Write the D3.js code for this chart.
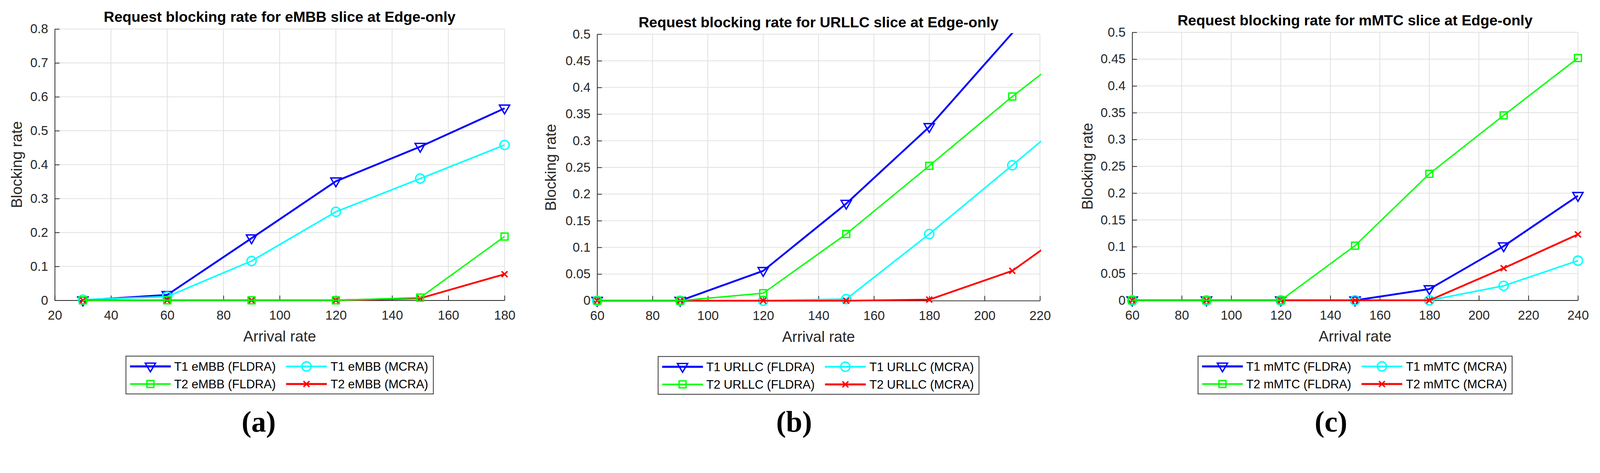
<!DOCTYPE html>
<html>
<head>
<meta charset="utf-8">
<title>Request blocking rate at Edge-only</title>
<script src="https://d3js.org/d3.v7.min.js"></script>
<style>
    html, body { margin: 0; padding: 0; overflow: hidden; background: #fff; }
    #fig { display: block; width: 100vw; height: auto; }
    text { font-family: "Liberation Sans", Arial, Helvetica, sans-serif; }
</style>
</head>
<body>
<svg id="fig" viewBox="0 0 4354 1212" preserveAspectRatio="xMinYMin meet"></svg>
<script>
// arrival rates per panel
const arrivalA = [30, 60, 90, 120, 150, 180];
const arrivalB = [60, 90, 120, 150, 180, 210, 240];
const arrivalC = [60, 90, 120, 150, 180, 210, 240];

// (a) eMBB
const embbT1Fldra = [0, 0.016, 0.183, 0.351, 0.453, 0.566];
const embbT1Mcra  = [0.002, 0.011, 0.116, 0.261, 0.359, 0.458];
const embbT2Fldra = [0, 0, 0, 0, 0.008, 0.188];
const embbT2Mcra  = [0, 0, 0, 0, 0.006, 0.077];

// (b) URLLC
const urllcT1Fldra = [0, 0, 0.056, 0.182, 0.326, 0.502, 0.68];
const urllcT1Mcra  = [0, 0, 0, 0.003, 0.125, 0.254, 0.384];
const urllcT2Fldra = [0, 0, 0.014, 0.125, 0.253, 0.383, 0.503];
const urllcT2Mcra  = [0, 0, 0, 0, 0.002, 0.056, 0.167];

// (c) mMTC
const mmtcT1Fldra = [0, 0, 0, 0, 0.021, 0.101, 0.195];
const mmtcT1Mcra  = [0, 0, 0, 0, 0, 0.027, 0.074];
const mmtcT2Fldra = [0, 0, 0, 0.102, 0.236, 0.345, 0.452];
const mmtcT2Mcra  = [0, 0, 0, 0, 0, 0.060, 0.123];

// ticks
const xTicksA = [20, 40, 60, 80, 100, 120, 140, 160, 180];
const xTicksB = [60, 80, 100, 120, 140, 160, 180, 200, 220];
const xTicksC = [60, 80, 100, 120, 140, 160, 180, 200, 220, 240];
const yTicksA = [0, 0.1, 0.2, 0.3, 0.4, 0.5, 0.6, 0.7, 0.8];
const yTicksB = [0, 0.05, 0.1, 0.15, 0.2, 0.25, 0.3, 0.35, 0.4, 0.45, 0.5];
const yTicksC = yTicksB;

const legendA = ["T1 eMBB (FLDRA)", "T1 eMBB (MCRA)", "T2 eMBB (FLDRA)", "T2 eMBB (MCRA)"];
const legendB = ["T1 URLLC (FLDRA)", "T1 URLLC (MCRA)", "T2 URLLC (FLDRA)", "T2 URLLC (MCRA)"];
const legendC = ["T1 mMTC (FLDRA)", "T1 mMTC (MCRA)", "T2 mMTC (FLDRA)", "T2 mMTC (MCRA)"];

// series styles, in legend order: T1 FLDRA, T1 MCRA, T2 FLDRA, T2 MCRA
const styles = [
    { color: "#0000ff", width: 5,   marker: "tri" },
    { color: "#00ffff", width: 4.2, marker: "circle" },
    { color: "#00ff00", width: 3.8, marker: "square" },
    { color: "#ff0000", width: 4.8, marker: "x" }
];
const drawOrder = [0, 1, 3, 2];

const panels = [
    { id: "a", title: "Request blocking rate for eMBB slice at Edge-only",
      xs: arrivalA, ys: [embbT1Fldra, embbT1Mcra, embbT2Fldra, embbT2Mcra], names: legendA,
      xDomain: [20, 180], yDomain: [0, 0.8], xTicks: xTicksA, yTicks: yTicksA,
      left: 149, right: 1373, top: 79, bottom: 818, ylabelX: 60, subX: 704 },
    { id: "b", title: "Request blocking rate for URLLC slice at Edge-only",
      xs: arrivalB, ys: [urllcT1Fldra, urllcT1Mcra, urllcT2Fldra, urllcT2Mcra], names: legendB,
      xDomain: [60, 220], yDomain: [0, 0.5], xTicks: xTicksB, yTicks: yTicksB,
      left: 1625, right: 2830, top: 93, bottom: 819, ylabelX: 1513, subX: 2161 },
    { id: "c", title: "Request blocking rate for mMTC slice at Edge-only",
      xs: arrivalC, ys: [mmtcT1Fldra, mmtcT1Mcra, mmtcT2Fldra, mmtcT2Mcra], names: legendC,
      xDomain: [60, 240], yDomain: [0, 0.5], xTicks: xTicksC, yTicks: yTicksC,
      left: 3081, right: 4294, top: 88, bottom: 818, ylabelX: 2973, subX: 3622 }
];

const svg = d3.select("#fig");
const axisColor = "#262626";
const gridColor = "#dfdfdf";

function drawMarker(g, type, color, cx, cy) {
    const m = g.append("g").attr("transform", `translate(${cx},${cy})`)
        .attr("fill", "none").attr("stroke", color);
    if (type === "tri") {
        m.append("path").attr("d", "M-14,-9L14,-9L0,15Z").attr("stroke-width", 3.6);
    } else if (type === "circle") {
        m.append("circle").attr("r", 12.5).attr("stroke-width", 3.8);
    } else if (type === "square") {
        m.append("rect").attr("x", -9.5).attr("y", -9.5).attr("width", 19).attr("height", 19)
            .attr("stroke-width", 3.6);
    } else {
        m.append("path").attr("d", "M-8,-8L8,8M-8,8L8,-8").attr("stroke-width", 4);
    }
}

function styleAxis(sel) {
    sel.attr("font-size", 35).attr("font-family", "Liberation Sans, Arial, sans-serif");
    sel.select(".domain").attr("stroke", axisColor).attr("stroke-width", 2);
    sel.selectAll(".tick line").attr("stroke", axisColor).attr("stroke-width", 2);
    sel.selectAll(".tick text").attr("fill", axisColor);
}

panels.forEach(p => {
    const g = svg.append("g");
    const x = d3.scaleLinear().domain(p.xDomain).range([p.left, p.right]);
    const y = d3.scaleLinear().domain(p.yDomain).range([p.bottom, p.top]);

    // grid
    g.append("g").selectAll("line").data(p.xTicks).join("line")
        .attr("x1", d => x(d)).attr("x2", d => x(d))
        .attr("y1", p.top).attr("y2", p.bottom)
        .attr("stroke", gridColor).attr("stroke-width", 2);
    g.append("g").selectAll("line").data(p.yTicks).join("line")
        .attr("x1", p.left).attr("x2", p.right)
        .attr("y1", d => y(d)).attr("y2", d => y(d))
        .attr("stroke", gridColor).attr("stroke-width", 2);

    // axes (box off, ticks inside)
    g.append("g").attr("transform", `translate(0,${p.bottom})`)
        .call(d3.axisBottom(x).tickValues(p.xTicks).tickSizeInner(-13).tickSizeOuter(0)
            .tickPadding(28).tickFormat(d3.format("d")))
        .call(styleAxis);
    g.append("g").attr("transform", `translate(${p.left},0)`)
        .call(d3.axisLeft(y).tickValues(p.yTicks).tickSizeInner(-13).tickSizeOuter(0)
            .tickPadding(18).tickFormat(d => String(+d.toFixed(2))))
        .call(styleAxis);

    // clip for lines
    const clipId = "clip-" + p.id;
    svg.append("clipPath").attr("id", clipId).append("rect")
        .attr("x", p.left - 3).attr("y", p.top - 3)
        .attr("width", p.right - p.left + 6).attr("height", p.bottom - p.top + 6);

    const line = d3.line().x(d => x(d[0])).y(d => y(d[1]));
    const eps = 1e-9;
    drawOrder.forEach(i => {
        const st = styles[i];
        const pts = p.xs.map((v, k) => [v, p.ys[i][k]]);
        g.append("path").datum(pts)
            .attr("clip-path", `url(#${clipId})`)
            .attr("d", line)
            .attr("fill", "none").attr("stroke", st.color)
            .attr("stroke-width", st.width).attr("stroke-linejoin", "round");
        const mg = g.append("g");
        pts.filter(d => d[0] >= p.xDomain[0] - eps && d[0] <= p.xDomain[1] + eps &&
                        d[1] >= p.yDomain[0] - eps && d[1] <= p.yDomain[1] + eps)
            .forEach(d => drawMarker(mg, st.marker, st.color, x(d[0]), y(d[1])));
    });

    // title and labels
    const cx = (p.left + p.right) / 2;
    g.append("text").attr("x", cx).attr("y", p.top - 19)
        .attr("text-anchor", "middle").attr("font-weight", "bold")
        .attr("font-size", 40).attr("fill", "#000").text(p.title);
    g.append("text").attr("x", cx).attr("y", p.bottom + 112)
        .attr("text-anchor", "middle").attr("font-size", 41).attr("fill", axisColor)
        .text("Arrival rate");
    g.append("text")
        .attr("transform", `translate(${p.ylabelX},${(p.top + p.bottom) / 2}) rotate(-90)`)
        .attr("text-anchor", "middle").attr("font-size", 41).attr("fill", axisColor)
        .text("Blocking rate");

    // legend, 2 columns
    const lg = g.append("g");
    const boxTop = p.bottom + 152;
    const rowY = [boxTop + 28, boxTop + 76];
    const box = lg.append("rect").attr("y", boxTop).attr("height", 103)
        .attr("fill", "#fff").attr("stroke", axisColor).attr("stroke-width", 2);
    const texts = p.names.map(n => lg.append("text").attr("font-size", 33)
        .attr("fill", "#000").attr("dy", "0.36em").text(n));
    const w = texts.map(t => t.node().getComputedTextLength());
    const col1W = Math.max(w[0], w[2]);
    const col2W = Math.max(w[1], w[3]);
    const col2Start = 131 + col1W + 28;
    const boxW = col2Start + 121 + col2W + 14;
    const bx = cx - boxW / 2;
    box.attr("x", bx).attr("width", boxW);
    p.names.forEach((n, i) => {
        const row = Math.floor(i / 2), col = i % 2;
        const x0 = bx + (col === 0 ? 11 : col2Start);
        const st = styles[i];
        lg.append("line").attr("x1", x0).attr("x2", x0 + 111)
            .attr("y1", rowY[row]).attr("y2", rowY[row])
            .attr("stroke", st.color).attr("stroke-width", st.width + 0.5);
        drawMarker(lg, st.marker, st.color, x0 + 55.5, rowY[row]);
        texts[i].attr("x", x0 + (col === 0 ? 120 : 121)).attr("y", rowY[row]);
    });

    // sub-figure label
    svg.append("text").attr("x", p.subX).attr("y", 1176)
        .attr("text-anchor", "middle").attr("font-size", 80).attr("font-weight", "bold")
        .style("font-family", "'Liberation Serif', 'Times New Roman', serif")
        .attr("fill", "#000").text(`(${p.id})`);
});
</script>
</body>
</html>
